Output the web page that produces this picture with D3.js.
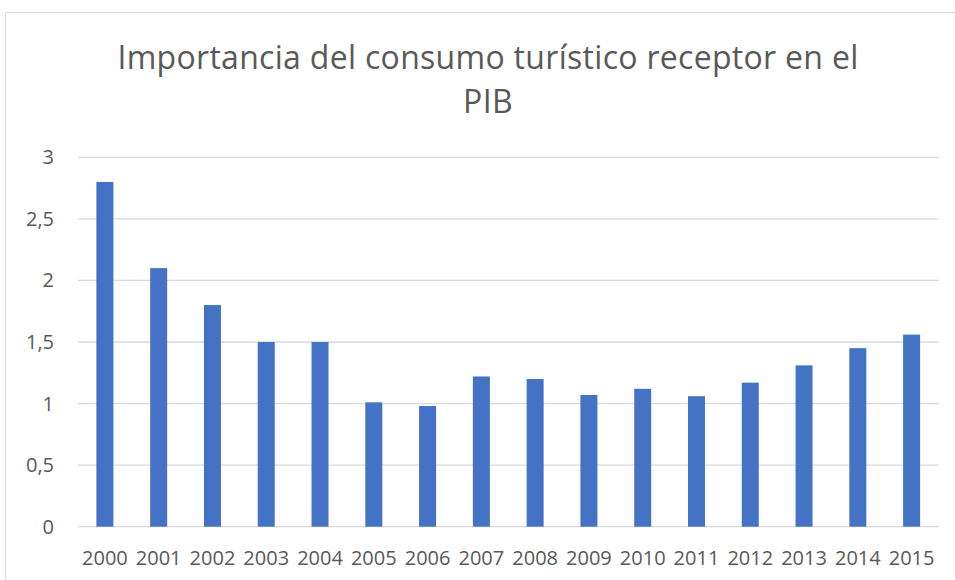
<!DOCTYPE html>
<html>
<head>
<meta charset="utf-8">
<script src="https://d3js.org/d3.v7.min.js"></script>
<style>
  body { margin: 0; background: #fff; }
  svg { display: block; font-family: "Open Sans", sans-serif; }
</style>
</head>
<body>
<div id="chart"></div>
<script>
// data
const years = ["2000", "2001", "2002", "2003", "2004", "2005", "2006", "2007",
               "2008", "2009", "2010", "2011", "2012", "2013", "2014", "2015"];
const values = [2.8, 2.1, 1.8, 1.5, 1.5, 1.01, 0.98, 1.22,
                1.2, 1.07, 1.12, 1.06, 1.17, 1.31, 1.45, 1.56];
const yTicks = [0, 0.5, 1, 1.5, 2, 2.5, 3];
const titleLines = ["Importancia del consumo turístico receptor en el", "PIB"];

const W = 955, H = 580;
const plot = { left: 78, right: 938.5, top: 157.3, bottom: 526.7 };

const svg = d3.select("#chart")
    .append("svg")
    .attr("width", W)
    .attr("height", H);

// chart frame
svg.append("rect")
    .attr("x", 5.5)
    .attr("y", 12.5)
    .attr("width", W)
    .attr("height", H)
    .attr("fill", "none")
    .attr("stroke", "#d9d9d9")
    .attr("stroke-width", 1);

const x = d3.scaleBand()
    .domain(years)
    .range([plot.left, plot.right])
    .paddingInner(0.684)
    .paddingOuter(0.342);

const y = d3.scaleLinear()
    .domain([0, 3])
    .range([plot.bottom, plot.top]);

// gridlines
svg.append("g")
    .selectAll("line")
    .data(yTicks)
    .enter()
    .append("line")
    .attr("x1", plot.left)
    .attr("x2", plot.right)
    .attr("y1", d => y(d))
    .attr("y2", d => y(d))
    .attr("stroke", "#d9d9d9")
    .attr("stroke-width", 1.3);

// y tick labels (comma decimal)
const fmt = d => String(d).replace(".", ",");
svg.append("g")
    .selectAll("text")
    .data(yTicks)
    .enter()
    .append("text")
    .attr("x", 54)
    .attr("y", d => y(d))
    .attr("dy", "0.35em")
    .attr("text-anchor", "end")
    .attr("font-size", "20px")
    .attr("fill", "#595959")
    .text(fmt);

// bars
svg.append("g")
    .selectAll("rect")
    .data(values)
    .enter()
    .append("rect")
    .attr("x", (d, i) => x(years[i]))
    .attr("width", x.bandwidth())
    .attr("y", d => y(d))
    .attr("height", d => y(0) - y(d))
    .attr("fill", "#4472c4");

// x labels
svg.append("g")
    .selectAll("text")
    .data(years)
    .enter()
    .append("text")
    .attr("x", d => x(d) + x.bandwidth() / 2)
    .attr("y", 565)
    .attr("text-anchor", "middle")
    .attr("font-size", "20px")
    .attr("fill", "#595959")
    .text(d => d);

// title
svg.append("g")
    .selectAll("text")
    .data(titleLines)
    .enter()
    .append("text")
    .attr("x", 488)
    .attr("y", (d, i) => 69 + i * 44)
    .attr("text-anchor", "middle")
    .attr("font-size", "32px")
    .attr("letter-spacing", "0.3px")
    .attr("fill", "#595959")
    .text(d => d);
</script>
</body>
</html>
